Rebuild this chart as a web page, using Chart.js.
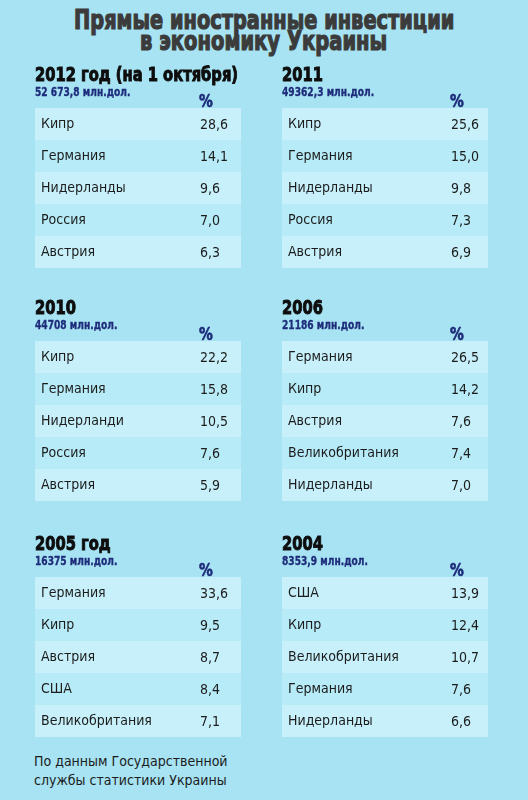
<!DOCTYPE html>
<html>
<head>
<meta charset="utf-8">
<script src="https://cdn.jsdelivr.net/npm/chart.js@4/dist/chart.umd.min.js"></script>
<style>
  html, body { margin: 0; padding: 0; }
  body {
    width: 528px; height: 800px; overflow: hidden; position: relative;
    background: #a7e3f2;
    font-family: 'DejaVu Sans', Verdana, sans-serif;
  }
  .title {
    position: absolute; left: 0; width: 528px; text-align: center;
    font-family: 'DejaVu Sans Condensed', 'DejaVu Sans', sans-serif;
    font-weight: bold; font-size: 27px; color: #3b3b3b; white-space: nowrap;
    -webkit-text-stroke: 1.2px #3b3b3b;
  }
  .title span { display: inline-block; transform-origin: 50% 50%; }
  .table { position: absolute; }
  .note {
    position: absolute; left: 34px; top: 752px;
    font-family: 'DejaVu Sans Condensed', 'DejaVu Sans', sans-serif;
    font-size: 14px; line-height: 19px; color: #1c1c1c;
  }
</style>
</head>
<body>
<div class="title" style="top:4px"><span id="t1">Прямые иностранные инвестиции</span></div>
<div class="title" style="top:25px"><span id="t2">в экономику Украины</span></div>

<canvas id="c2012" class="table" width="206" height="208" style="left:35px;top:60px"></canvas>
<canvas id="c2011" class="table" width="206" height="208" style="left:282px;top:60px"></canvas>
<canvas id="c2010" class="table" width="206" height="208" style="left:35px;top:293px"></canvas>
<canvas id="c2006" class="table" width="206" height="208" style="left:282px;top:293px"></canvas>
<canvas id="c2005" class="table" width="206" height="208" style="left:35px;top:529px"></canvas>
<canvas id="c2004" class="table" width="206" height="208" style="left:282px;top:529px"></canvas>

<div class="note">По данным Государственной<br>службы статистики Украины</div>

<script>
// data
var years = ['2012 год (на 1 октября)', '2011', '2010', '2006', '2005 год', '2004'];
var totals = ['52 673,8 млн.дол.', '49362,3 млн.дол.', '44708 млн.дол.', '21186 млн.дол.', '16375 млн.дол.', '8353,9 млн.дол.'];

var countries2012 = ['Кипр', 'Германия', 'Нидерланды', 'Россия', 'Австрия'];
var values2012 = [28.6, 14.1, 9.6, 7.0, 6.3];

var countries2011 = ['Кипр', 'Германия', 'Нидерланды', 'Россия', 'Австрия'];
var values2011 = [25.6, 15.0, 9.8, 7.3, 6.9];

var countries2010 = ['Кипр', 'Германия', 'Нидерланди', 'Россия', 'Австрия'];
var values2010 = [22.2, 15.8, 10.5, 7.6, 5.9];

var countries2006 = ['Германия', 'Кипр', 'Австрия', 'Великобритания', 'Нидерланды'];
var values2006 = [26.5, 14.2, 7.6, 7.4, 7.0];

var countries2005 = ['Германия', 'Кипр', 'Австрия', 'США', 'Великобритания'];
var values2005 = [33.6, 9.5, 8.7, 8.4, 7.1];

var countries2004 = ['США', 'Кипр', 'Великобритания', 'Германия', 'Нидерланды'];
var values2004 = [13.9, 12.4, 10.7, 7.6, 6.6];

var tables = [
    {id: 'c2012', countries: countries2012, values: values2012, col: 0},
    {id: 'c2011', countries: countries2011, values: values2011, col: 1},
    {id: 'c2010', countries: countries2010, values: values2010, col: 0},
    {id: 'c2006', countries: countries2006, values: values2006, col: 1},
    {id: 'c2005', countries: countries2005, values: values2005, col: 0},
    {id: 'c2004', countries: countries2004, values: values2004, col: 1}
];

var cellFont = "'DejaVu Sans Condensed', 'DejaVu Sans'";

function fmt(v) {
    return v.toFixed(1).replace('.', ',');
}

function squeeze(ctx, text, x, y, k, stroke) {
    var w = ctx.measureText(text).width * k;
    if (stroke) {
        ctx.lineWidth = stroke;
        ctx.strokeStyle = ctx.fillStyle;
        ctx.strokeText(text, x, y, w);
    }
    ctx.fillText(text, x, y, w);
}

// stripes, header and value column
var tablePlugin = {
    id: 'tablePlugin',
    beforeDraw: function (chart, args, opts) {
        var ctx = chart.ctx;
        var ys = chart.scales.y;
        var n = chart.data.labels.length;
        var band = (ys.bottom - ys.top) / n;
        ctx.save();
        for (var i = 0; i < n; i++) {
            var yc = ys.getPixelForValue(i);
            ctx.fillStyle = i % 2 === 0 ? '#c7f0fa' : '#b6ebf7';
            ctx.fillRect(0, yc - band / 2, chart.width, band);
        }
        ctx.restore();
    },
    afterDraw: function (chart, args, opts) {
        var ctx = chart.ctx;
        var ys = chart.scales.y;
        var top = ys.top;
        ctx.save();
        ctx.textAlign = 'left';
        ctx.textBaseline = 'alphabetic';
        ctx.fillStyle = '#0d0d0d';
        ctx.font = "bold 19px 'DejaVu Sans Condensed', 'DejaVu Sans'";
        squeeze(ctx, opts.header, 0, top - 27, 0.86, 0.9);
        ctx.fillStyle = '#1d2b7a';
        ctx.font = "bold 11.5px 'DejaVu Sans Condensed', 'DejaVu Sans'";
        squeeze(ctx, opts.sub, 0, top - 12, 0.88, 0.3);
        ctx.font = "bold 18px 'DejaVu Sans Condensed', 'DejaVu Sans'";
        squeeze(ctx, '%', opts.valueX - 1, top - 1, 0.85, 0.6);

        ctx.fillStyle = '#1c1c1c';
        ctx.font = "14px " + cellFont;
        ctx.textBaseline = 'middle';
        chart.data.datasets[0].data.forEach(function (v, i) {
            ctx.fillText(fmt(v), opts.valueX, ys.getPixelForValue(i) + 1);
        });
        ctx.restore();
    }
};

function renderTable(t, index) {
    var ctx = document.getElementById(t.id);
    new Chart(ctx, {
        type: 'bar',
        data: {
            labels: t.countries,
            datasets: [{
                label: years[index],
                data: t.values,
                backgroundColor: 'rgba(0, 0, 0, 0)',
                borderWidth: 0
            }]
        },
        options: {
            indexAxis: 'y',
            responsive: false,
            animation: false,
            layout: {padding: {top: 48, left: 6, right: 0, bottom: 0}},
            scales: {
                x: {display: false, min: 0, max: 40},
                y: {
                    grid: {display: false},
                    border: {display: false},
                    afterFit: function (scale) {
                        scale.width = 150;
                        scale.paddingTop = 0;
                        scale.paddingBottom = 0;
                    },
                    ticks: {
                        crossAlign: 'far',
                        color: '#1c1c1c',
                        font: {family: cellFont, size: 14}
                    }
                }
            },
            plugins: {
                legend: {display: false},
                tooltip: {enabled: false},
                tablePlugin: {
                    header: years[index],
                    sub: totals[index],
                    valueX: t.col === 0 ? 165 : 169
                }
            }
        },
        plugins: [tablePlugin]
    });
}

tables.forEach(renderTable);

// compress title lines to the widths of the original
function fitTitle(id, w) {
    var el = document.getElementById(id);
    el.style.transform = 'scaleX(' + (w / el.offsetWidth) + ')';
}
fitTitle('t1', 380);
fitTitle('t2', 247);
</script>
</body>
</html>
